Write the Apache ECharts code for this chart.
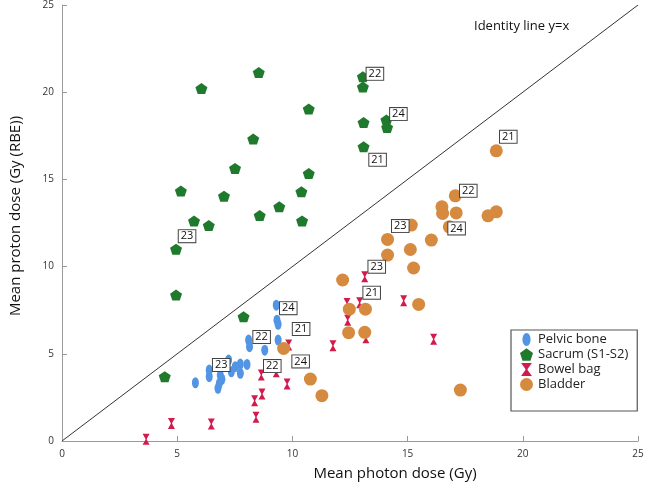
<!DOCTYPE html>
<html>
<head>
<meta charset="utf-8">
<script src="https://cdn.jsdelivr.net/npm/echarts@6/dist/echarts.min.js"></script>
<style>html,body{margin:0;padding:0;background:#fff;}#c{width:649px;height:490px;}</style>
</head>
<body>
<div id="c"></div>
<script>
// ---- data ----
const seriesNames = ['Pelvic bone', 'Sacrum (S1-S2)', 'Bowel bag', 'Bladder'];
const xTicks = [0, 5, 10, 15, 20, 25];
const yTicks = [0, 5, 10, 15, 20, 25];
const identityLine = [[0, 0], [25, 25]];

const pelvicBone = [
  [9.30,7.79],[9.33,6.93],[9.38,6.69],[9.38,5.79],[8.10,5.79],[8.14,5.41],[8.80,5.21],
  [8.03,4.39],[7.74,4.41],[7.74,3.88],[7.52,4.26],[7.35,3.97],[7.23,4.64],[6.39,4.07],
  [6.39,3.69],[6.87,3.78],[6.94,3.54],[6.83,3.31],[6.77,3.02],[5.79,3.34]
];
const sacrum = [
  [8.54,21.13],[6.05,20.21],[13.06,20.88],[13.06,20.30],[10.71,19.04],[13.09,18.26],
  [14.08,18.40],[14.11,17.98],[8.30,17.31],[13.09,16.87],[7.51,15.63],[10.71,15.34],
  [5.16,14.33],[7.03,14.04],[10.39,14.29],[9.43,13.43],[8.58,12.93],[10.42,12.62],
  [5.73,12.61],[6.37,12.36],[4.95,11.00],[4.95,8.37],[7.88,7.12],[4.46,3.69]
];
const bowelBag = [
  [13.14,9.42],[12.37,7.89],[12.92,7.93],[14.83,8.04],[12.40,6.93],[13.19,5.92],
  [11.76,5.46],[16.13,5.83],[9.84,5.50],[9.30,3.97],[8.65,3.78],[9.77,3.27],
  [8.68,2.69],[8.36,2.31],[8.42,1.36],[4.75,1.01],[6.48,0.97],[3.65,0.10]
];
const bladder = [
  [18.85,16.64],[17.07,14.06],[16.49,13.43],[16.52,13.05],[17.11,13.08],[18.49,12.91],
  [18.85,13.14],[15.16,12.38],[16.81,12.28],[14.13,11.56],[16.03,11.52],[15.12,10.98],
  [14.13,10.66],[15.26,9.92],[12.18,9.23],[12.47,7.56],[13.17,7.56],[15.48,7.83],
  [12.44,6.21],[13.14,6.23],[9.62,5.31],[10.78,3.55],[11.28,2.60],[17.29,2.92]
];
// point annotations: [series index, point index, text]
const annotations = [
  [1, 2, '22'], [1, 6, '24'], [1, 9, '21'], [1, 20, '23'],
  [3, 0, '21'], [3, 1, '22'], [3, 3, '24'], [3, 7, '23'],
  [2, 0, '23'], [2, 2, '21'],
  [0, 0, '24'], [0, 3, '21'], [0, 4, '22'], [2, 10, '22'], [3, 20, '24'], [0, 13, '23']
];
const identityText = 'Identity line y=x';
const xTitle = 'Mean photon dose (Gy)';
const yTitle = 'Mean proton dose (Gy (RBE))';

// ---- styles ----
const annotationOffsets = [
  [12,-3],[12,-6],[14,13],[11,-13],
  [12,-14],[13,-5],[14,15],[-11,1],
  [12,-10],[12,-10],
  [12,3],[23,-11],[13,-3],[11,-9],[17,13],[12,-5]
];
const colors = ['#5195e4', '#1f7a2d', '#d31a4c', '#d68a3f'];
const FONT = 'Open Sans';
const pentagon = 'path://M0,-10 L9.51,-3.09 L5.88,8.09 L-5.88,8.09 L-9.51,-3.09 Z';
const hourglass = 'path://M0,0 L10,0 L6,5.5 L6,6.5 L10,12 L0,12 L4,6.5 L4,5.5 Z';
const ellipse = 'path://M5,0 C7.8,0 10,3.6 10,8 C10,12.4 7.8,16 5,16 C2.2,16 0,12.4 0,8 C0,3.6 2.2,0 5,0 Z';
const symbols = ['circle', pentagon, hourglass, 'circle'];
const sizes = [[7,11], [12,11], [7,11], 13];
const legendIcons = [ellipse, pentagon, hourglass, 'circle'];

const allData = [pelvicBone, sacrum, bowelBag, bladder];

function buildData(si) {
  return allData[si].map((p, i) => {
    const item = { value: p };
    annotations.forEach((a, k) => {
      if (a[0] === si && a[1] === i) {
        item.label = {
          show: true, formatter: a[2], position: 'inside',
          offset: annotationOffsets[k], color: '#111', fontSize: 11, fontFamily: FONT,
          backgroundColor: '#fff', borderColor: '#444', borderWidth: 1, padding: [1, 2, 0, 2]
        };
      }
    });
    return item;
  });
}

const axisCommon = {
  min: 0, max: 25, interval: 5,
  axisLine: { show: true, lineStyle: { color: '#9a9a9a', width: 1 } },
  axisTick: { show: true, inside: true, length: 5, lineStyle: { color: '#9a9a9a' } },
  splitLine: { show: false },
  axisLabel: { fontSize: 10, color: '#333', fontFamily: FONT },
  nameLocation: 'middle'
};

const series = [{
  type: 'line', data: identityLine, symbol: 'none', silent: true, z: 1,
  lineStyle: { color: '#333', width: 1 }, legendHoverLink: false
}];
seriesNames.forEach((n, si) => {
  series.push({
    name: n, type: 'scatter', data: buildData(si), symbol: symbols[si], symbolSize: sizes[si],
    itemStyle: { color: colors[si], opacity: 1 }, z: 2, animation: false
  });
});

const chart = echarts.init(document.getElementById('c'));
chart.setOption({
  animation: false,
  backgroundColor: '#fff',
  grid: { left: 61, right: 11, top: 5, bottom: 49 },
  title: { text: identityText, left: 469, top: 15, textStyle: { fontSize: 13, fontWeight: 'normal', color: '#111', fontFamily: FONT } },
  legend: {
    orient: 'vertical', left: 511, top: 330,
    padding: [3, 9, 20, 9], itemGap: 2, itemWidth: 13, itemHeight: 13,
    borderColor: '#555', borderWidth: 1.2, backgroundColor: '#fff',
    textStyle: { fontSize: 13, color: '#222', fontFamily: FONT },
    data: seriesNames.map((n, i) => ({ name: n, icon: legendIcons[i] }))
  },
  xAxis: Object.assign({}, axisCommon, {
    type: 'value', name: xTitle, nameGap: 25,
    nameTextStyle: { fontSize: 15, color: '#111', fontFamily: FONT, padding: [0, 0, 0, 90] }
  }),
  yAxis: Object.assign({}, axisCommon, {
    type: 'value', name: yTitle, nameGap: 39,
    nameTextStyle: { fontSize: 15, color: '#111', fontFamily: FONT, padding: [0, 0, 0, 14] }
  }),
  series: series
});
</script>
</body>
</html>
